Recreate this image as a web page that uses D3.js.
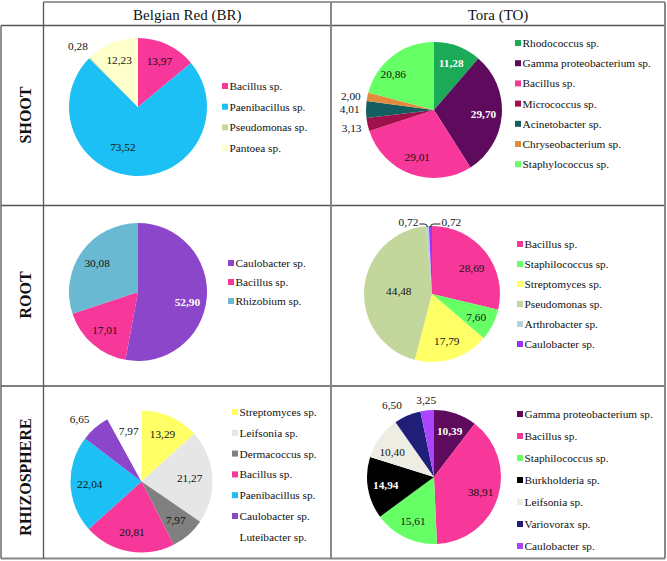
<!DOCTYPE html>
<html><head><meta charset="utf-8">
<script src="https://cdn.jsdelivr.net/npm/d3@7"></script>
<style>body{margin:0;background:#fff}svg{display:block}</style>
</head><body>
<svg id="chart" width="667" height="561" font-family="'Liberation Serif', 'Times New Roman', serif"></svg>
<script>
// ---------- DATA ----------
const columnTitles = ["Belgian Red (BR)", "Tora (TO)"];
const rowTitles = ["SHOOT", "ROOT", "RHIZOSPHERE"];

const brShootTaxa = ["Bacillus sp.", "Paenibacillus sp.", "Pseudomonas sp.", "Pantoea sp."];
const brShootValues = [13.97, 73.52, 0.28, 12.23];

const toShootTaxa = ["Rhodococcus sp.", "Gamma proteobacterium sp.", "Bacillus sp.", "Micrococcus sp.", "Acinetobacter sp.", "Chryseobacterium sp.", "Staphylococcus sp."];
const toShootValues = [11.28, 29.70, 29.01, 3.13, 4.01, 2.00, 20.86];

const brRootTaxa = ["Caulobacter sp.", "Bacillus sp.", "Rhizobium sp."];
const brRootValues = [52.90, 17.01, 30.08];

const toRootTaxa = ["Bacillus sp.", "Staphilococcus sp.", "Streptomyces sp.", "Pseudomonas sp.", "Arthrobacter sp.", "Caulobacter sp."];
const toRootValues = [28.69, 7.60, 17.79, 44.48, 0.72, 0.72];

const brRhizoTaxa = ["Streptomyces sp.", "Leifsonia sp.", "Dermacoccus sp.", "Bacillus sp.", "Paenibacillus sp.", "Caulobacter sp.", "Luteibacter sp."];
const brRhizoValues = [13.29, 21.27, 7.97, 20.81, 22.04, 6.65, 7.97];

const toRhizoTaxa = ["Gamma proteobacterium sp.", "Bacillus sp.", "Staphilococcus sp.", "Burkholderia sp.", "Leifsonia sp.", "Variovorax sp.", "Caulobacter sp."];
const toRhizoValues = [10.39, 38.91, 15.61, 14.94, 10.40, 6.50, 3.25];

// ---------- STYLES ----------
const FONT = "'Liberation Serif', 'Times New Roman', serif";
const FS = 11.3;
const C = {
  bacillus: "#F7379A", paeni: "#1CC0F4", pseudo: "#C3D69B", pantoea: "#FFFFCC",
  rhodo: "#1BAA57", gamma: "#5E0B5E", micro: "#A0114C", acineto: "#135E5E",
  chryseo: "#E48A3C", staph: "#66FF66", cauloBR: "#8C46C9", rhizo: "#6AB9D2",
  strepto: "#FFFF66", arthro: "#B7D0DA", cauloTO: "#9933FF", leifBR: "#E6E6E6",
  leifTO: "#EEEDE4", derma: "#808080", burk: "#000000", vario: "#1F1F7A",
  cauloRh: "#AA44FF", none: "#FFFFFF"
};

const pies = [
  { taxa: brShootTaxa, values: brShootValues,
    colors: [C.bacillus, C.paeni, C.pseudo, C.pantoea],
    cx: 138, cy: 107, r: 69, lx: 222, ly: 86, step: 20.7,
    white: [], outside: [2], nudge: {1: {da: 18, f: 0.62}} },
  { taxa: toShootTaxa, values: toShootValues,
    colors: [C.rhodo, C.gamma, C.bacillus, C.micro, C.acineto, C.chryseo, C.staph],
    cx: 434, cy: 110, r: 68, lx: 515, ly: 43, step: 20.2,
    white: [0, 1], outside: [3, 4, 5], nudge: {5: {da: -2}, 6: {da: -11, f: 0.8}} },
  { taxa: brRootTaxa, values: brRootValues,
    colors: [C.cauloBR, C.bacillus, C.rhizo],
    cx: 138, cy: 292, r: 69, lx: 228, ly: 263, step: 19,
    white: [0], outside: [], nudge: {0: {da: 6}} },
  { taxa: toRootTaxa, values: toRootValues,
    colors: [C.bacillus, C.staph, C.strepto, C.pseudo, C.arthro, C.cauloTO],
    cx: 432, cy: 294, r: 68, lx: 517, ly: 244, step: 20,
    white: [], outside: [], leader: [4, 5], nudge: {0: {da: 5, f: 0.7}, 3: {f: 0.49}} },
  { taxa: brRhizoTaxa, values: brRhizoValues,
    colors: [C.strepto, C.leifBR, C.derma, C.bacillus, C.paeni, C.cauloBR, C.none],
    cx: 141.5, cy: 481.5, r: 71, lx: 232, ly: 412, step: 20.8, noSwatch: [6],
    white: [], outside: [5], nudge: {1: {f: 0.68}, 5: {da: -4}} },
  { taxa: toRhizoTaxa, values: toRhizoValues,
    colors: [C.gamma, C.bacillus, C.staph, C.burk, C.leifTO, C.vario, C.cauloRh],
    cx: 434, cy: 477, r: 67, lx: 517, ly: 414, step: 22,
    white: [0, 3], outside: [5, 6], nudge: {4: {da: -5}, 5: {da: -7}, 6: {f: 1.15}} }
];

const svg = d3.select("#chart");
const fmt = v => d3.format(".2f")(v).replace(".", ",");
const txt = (sel) => sel.append("text").attr("font-family", FONT);

// ---------- TABLE GRID ----------
const grid = svg.append("g").attr("stroke", "#555").attr("stroke-width", 1.3).attr("fill", "none");
const xL = 1, xA = 43.5, xM = 331, xR = 665;
const yT = 2, yH = 25.5, rowYs = [205.5, 386], yB = 558.5;
grid.append("line").attr("x1", xA).attr("x2", xR).attr("y1", yT).attr("y2", yT).attr("stroke", "#999").attr("stroke-width", 2);
[yH, ...rowYs].forEach(y => grid.append("line").attr("x1", xL).attr("x2", xR).attr("y1", y).attr("y2", y));
grid.append("line").attr("x1", xL).attr("x2", xR).attr("y1", yB).attr("y2", yB).attr("stroke", "#888").attr("stroke-width", 2);
grid.append("line").attr("x1", xL).attr("x2", xL).attr("y1", yH).attr("y2", yB);
grid.append("line").attr("x1", xA).attr("x2", xA).attr("y1", yT).attr("y2", yB);
grid.append("line").attr("x1", xM).attr("x2", xM).attr("y1", yT).attr("y2", yB).attr("stroke", "#888").attr("stroke-width", 2);
grid.append("line").attr("x1", xR).attr("x2", xR).attr("y1", yT).attr("y2", yB).attr("stroke", "#888").attr("stroke-width", 2);

// Column headers
[(xA + xM) / 2, (xM + xR) / 2].forEach((x, i) =>
  txt(svg).attr("x", x).attr("y", 19.5).attr("text-anchor", "middle")
    .attr("font-size", 15).attr("fill", "#111").text(columnTitles[i]));

// Row headers
const rowCenters = [115, 295, 477];
rowTitles.forEach((t, i) =>
  txt(svg).attr("transform", `translate(30.5,${rowCenters[i]}) rotate(-90)`)
    .attr("text-anchor", "middle").attr("font-size", 16).attr("font-weight", "bold")
    .attr("fill", "#111").text(t));

// ---------- PIES ----------
const pieGen = d3.pie().sort(null).value(d => d);
pies.forEach(p => {
  const g = svg.append("g").attr("transform", `translate(${p.cx},${p.cy})`);
  const arcs = pieGen(p.values);
  const arc = d3.arc().innerRadius(0).outerRadius(p.r);
  g.selectAll("path").data(arcs).join("path")
    .attr("d", arc).attr("fill", (d, i) => p.colors[i]);

  arcs.forEach((d, i) => {
    if (p.leader && p.leader.includes(i)) return;
    const n = (p.nudge && p.nudge[i]) || {};
    const out = p.outside.includes(i);
    const f = n.f !== undefined ? n.f : (out ? 1.24 : 0.73);
    const a = (d.startAngle + d.endAngle) / 2 + (n.da || 0) * Math.PI / 180;
    const white = p.white.includes(i);
    txt(g)
      .attr("x", Math.sin(a) * p.r * f).attr("y", -Math.cos(a) * p.r * f)
      .attr("text-anchor", "middle").attr("dominant-baseline", "central")
      .attr("font-size", FS).attr("font-weight", white ? "bold" : "normal")
      .attr("fill", white ? "#fff" : "#111").text(fmt(p.values[i]));
  });

  if (p.leader) {
    p.leader.forEach((i, k) => {
      const d = arcs[i];
      const a = (d.startAngle + d.endAngle) / 2;
      const x0 = Math.sin(a) * p.r, y0 = -Math.cos(a) * p.r;
      const yl = -p.r - 2;
      const xe = k === 0 ? x0 - 8 : x0 + 10;
      g.append("path")
        .attr("d", `M${x0},${y0 + 1} Q${x0},${yl} ${x0 + (k === 0 ? -3 : 3)},${yl} L${xe},${yl}`)
        .attr("fill", "none").attr("stroke", "#222").attr("stroke-width", 1);
      txt(g).attr("x", k === 0 ? xe - 1 : xe + 1).attr("y", yl - 2)
        .attr("text-anchor", k === 0 ? "end" : "start").attr("dominant-baseline", "central")
        .attr("font-size", FS).attr("fill", "#111").text(fmt(p.values[i]));
    });
  }

  // legend
  const lg = svg.append("g");
  p.taxa.forEach((t, i) => {
    const y = p.ly + i * p.step;
    if (!(p.noSwatch && p.noSwatch.includes(i)))
      lg.append("rect").attr("x", p.lx).attr("y", y - 3).attr("width", 6).attr("height", 6).attr("fill", p.colors[i]);
    txt(lg).attr("x", p.lx + 7.5).attr("y", y).attr("dominant-baseline", "central")
      .attr("font-size", FS).attr("fill", "#111").text(t);
  });
});
</script>
</body></html>
